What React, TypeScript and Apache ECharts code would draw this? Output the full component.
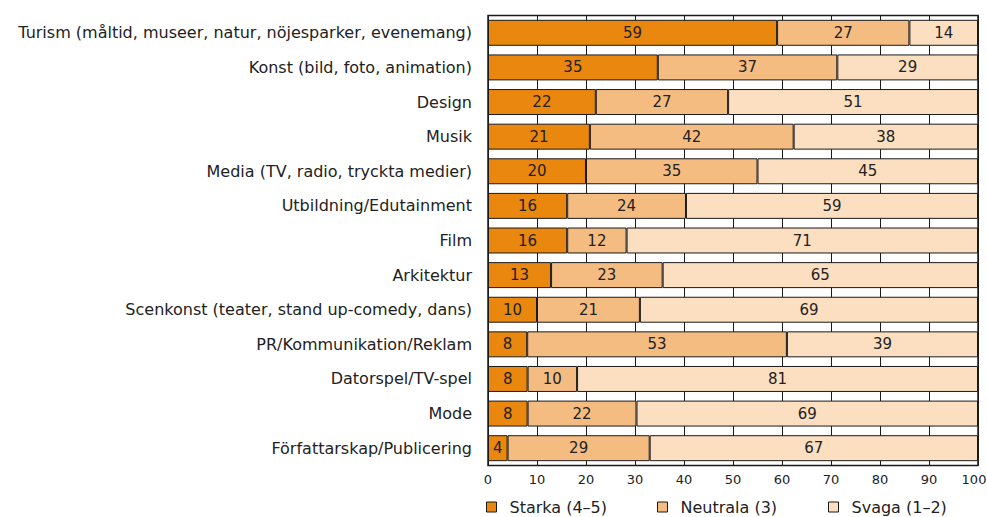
import React, { useEffect, useRef } from "react";
import * as echarts from "echarts";

const categories = [
  "Turism (måltid, museer, natur, nöjesparker, evenemang)",
  "Konst (bild, foto, animation)",
  "Design",
  "Musik",
  "Media (TV, radio, tryckta medier)",
  "Utbildning/Edutainment",
  "Film",
  "Arkitektur",
  "Scenkonst (teater, stand up-comedy, dans)",
  "PR/Kommunikation/Reklam",
  "Datorspel/TV-spel",
  "Mode",
  "Författarskap/Publicering",
];

const starka = [59, 35, 22, 21, 20, 16, 16, 13, 10, 8, 8, 8, 4];
const neutrala = [27, 37, 27, 42, 35, 24, 12, 23, 21, 53, 10, 22, 29];
const svaga = [14, 29, 51, 38, 45, 59, 71, 65, 69, 39, 81, 69, 67];

const seriesNames = ["Starka (4–5)", "Neutrala (3)", "Svaga (1–2)"];
const seriesColors = ["#EA870E", "#F5BC82", "#FCDFC0"];
const xTicks = [0, 10, 20, 30, 40, 50, 60, 70, 80, 90, 100];

const FONT = "DejaVu Sans";

export default function App() {
  const ref = useRef<HTMLDivElement>(null);
  useEffect(() => {
    if (!ref.current) return;
    const chart = echarts.init(ref.current, null, { renderer: "svg" });
    const raw = [starka, neutrala, svaga];
    const totals = starka.map((v, i) => v + neutrala[i] + svaga[i]);
    const series = raw.map((arr, si) => ({
      name: seriesNames[si],
      type: "bar",
      stack: "total",
      barCategoryGap: "25%",
      data: arr.map((v, i) => (v / totals[i]) * 100),
      itemStyle: { color: seriesColors[si], borderColor: "#1a1a1a", borderWidth: 1 },
      label: {
        show: true,
        position: "inside",
        color: "#222",
        fontSize: 15,
        fontFamily: FONT,
        formatter: (p: any) => String(arr[p.dataIndex]),
      },
    }));
    const legendLefts = [486, 657, 828];
    chart.setOption({
      animation: false,
      textStyle: { fontFamily: FONT },
      grid: {
        left: 488,
        right: 9,
        top: 15.5,
        bottom: 51.5,
        outerBoundsMode: "none",
        containLabel: false,
        show: true,
        borderColor: "#1a1a1a",
        borderWidth: 1.5,
        backgroundColor: "#fff",
      },
      legend: seriesNames.map((n, i) => ({
        data: [n],
        left: legendLefts[i],
        top: 498,
        padding: 0,
        itemWidth: 10,
        itemHeight: 10,
        icon: "rect",
        itemStyle: { borderColor: "#1a1a1a", borderWidth: 1 },
        textStyle: {
          fontSize: 16,
          lineHeight: 18,
          color: "#222",
          fontFamily: FONT,
          padding: [0, 0, 0, 8],
        },
        selectedMode: false,
      })),
      xAxis: {
        type: "value",
        min: 0,
        max: 100,
        interval: 10,
        axisLine: { show: false },
        axisTick: { show: false },
        axisLabel: {
          color: "#222",
          fontSize: 13,
          fontFamily: FONT,
          margin: 7,
          formatter: (v: number) =>
            xTicks.includes(v) ? (v === 100 ? "{last|100}" : String(v)) : "",
          rich: {
            last: { fontSize: 13, fontFamily: FONT, color: "#222", padding: [0, 8, 0, 0] },
          },
        },
        splitLine: { show: true, lineStyle: { color: "#1a1a1a", width: 1 } },
      },
      yAxis: {
        type: "category",
        inverse: true,
        data: categories,
        axisLine: { show: false },
        axisTick: { show: false },
        axisLabel: { color: "#222", fontSize: 16, fontFamily: FONT, margin: 16 },
      },
      series,
    });
    return () => chart.dispose();
  }, []);
  return (
    <div
      ref={ref}
      style={{ position: "fixed", left: 0, top: 0, width: 987, height: 517, background: "#fff" }}
    />
  );
}
